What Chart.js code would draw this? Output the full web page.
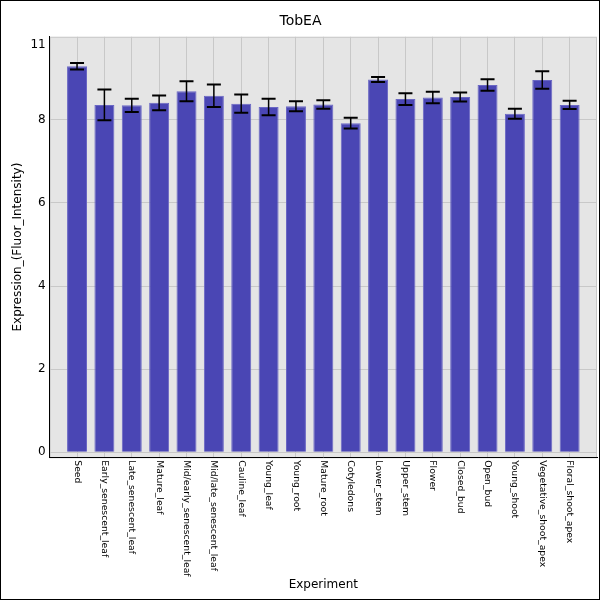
<!DOCTYPE html>
<html>
<head>
<meta charset="utf-8">
<script src="https://cdn.jsdelivr.net/npm/chart.js@4.4.1/dist/chart.umd.min.js"></script>
<style>
  html, body { margin: 0; padding: 0; background: #fff; }
  canvas { display: block; }
</style>
</head>
<body>
<canvas id="myChart" width="600" height="600"></canvas>
<script>
// datos
var experiments = ['Seed', 'Early_senescent_leaf', 'Late_senescent_leaf', 'Mature_leaf',
  'Mid/early_senescent_leaf', 'Mid/late_senescent_leaf', 'Cauline_leaf', 'Young_leaf',
  'Young_root', 'Mature_root', 'Cotyledons', 'Lower_stem', 'Upper_stem', 'Flower',
  'Closed_bud', 'Open_bud', 'Young_shoot', 'Vegetative_shoot_apex', 'Floral_shoot_apex'];

var expression = [9.29, 8.36, 8.35, 8.41, 8.69, 8.58, 8.39, 8.31, 8.33, 8.37,
  7.92, 8.97, 8.50, 8.54, 8.55, 8.84, 8.15, 8.96, 8.36];

var errors = [0.08, 0.37, 0.16, 0.18, 0.24, 0.27, 0.22, 0.20, 0.12, 0.10,
  0.13, 0.06, 0.14, 0.14, 0.11, 0.14, 0.12, 0.21, 0.10];

var yTicks = [0, 2, 4, 6, 8, 9.8];
var yTickLabels = ['0', '2', '4', '6', '8', '11'];

var fuenteX = '9.25px "DejaVu Sans"';

// fondo gris y marco
var fondo = {
  id: 'fondo',
  beforeDraw: function(chart) {
    var c = chart.ctx, a = chart.chartArea;
    c.save();
    c.fillStyle = '#e5e5e5';
    c.fillRect(a.left, a.top, a.right - a.left, a.bottom - a.top);
    c.strokeStyle = '#c8c8c8';
    c.lineWidth = 1;
    c.strokeRect(a.left + 0.5, a.top + 0.5, a.right - a.left - 1, a.bottom - a.top);
    c.restore();
  },
  afterDraw: function(chart) {
    var c = chart.ctx;
    c.save();
    c.strokeStyle = '#000';
    c.lineWidth = 1;
    c.strokeRect(0.5, 0.5, chart.width - 1, chart.height - 1);
    // etiquetas del eje x giradas hacia abajo
    var xs = chart.scales.x;
    c.fillStyle = '#000';
    c.font = fuenteX;
    c.textAlign = 'left';
    c.textBaseline = 'middle';
    experiments.forEach(function(name, i) {
      var px = xs.getPixelForValue(i);
      c.save();
      c.translate(px, xs.top + 3);
      c.rotate(Math.PI / 2);
      c.fillText(name, 0, 0);
      c.restore();
    });
    c.restore();
  }
};

// barras de error
var barrasError = {
  id: 'barrasError',
  afterDatasetsDraw: function(chart) {
    var c = chart.ctx;
    var ys = chart.scales.y;
    var meta = chart.getDatasetMeta(0);
    c.save();
    c.strokeStyle = '#000';
    meta.data.forEach(function(bar, i) {
      var x = bar.x;
      var top = ys.getPixelForValue(expression[i] + errors[i]);
      var bot = ys.getPixelForValue(expression[i] - errors[i]);
      c.lineWidth = 1.5;
      c.beginPath();
      c.moveTo(x, top);
      c.lineTo(x, bot);
      c.stroke();
      c.lineWidth = 2;
      c.beginPath();
      c.moveTo(x - 7, top);
      c.lineTo(x + 7, top);
      c.moveTo(x - 7, bot);
      c.lineTo(x + 7, bot);
      c.stroke();
    });
    c.restore();
  }
};

var puntos = expression.map(function(v, i) { return { x: i, y: v }; });

var ctx = document.getElementById('myChart').getContext('2d');
var myChart = new Chart(ctx, {
  type: 'bar',
  data: {
    datasets: [{
      label: 'TobEA',
      data: puntos,
      backgroundColor: '#4a46b4',
      borderColor: '#6a67c4',
      borderWidth: 1,
      barPercentage: 0.73,
      categoryPercentage: 1
    }]
  },
  options: {
    responsive: false,
    animation: false,
    layout: { padding: { top: 7, right: 3, left: 4, bottom: 4 } },
    plugins: {
      legend: { display: false },
      tooltip: { enabled: false },
      title: {
        display: true,
        text: 'TobEA',
        color: '#000',
        font: { family: 'DejaVu Sans', size: 14, weight: 'normal' },
        padding: { top: 6, bottom: 7 }
      }
    },
    scales: {
      x: {
        type: 'linear',
        min: -1,
        max: experiments.length,
        offset: false,
        afterBuildTicks: function(axis) {
          axis.ticks = experiments.map(function(n, i) { return { value: i }; });
        },
        grid: { offset: false, color: '#c8c8c8', drawTicks: false },
        border: { color: '#000' },
        ticks: {
          color: 'rgba(0,0,0,0)',
          minRotation: 90,
          maxRotation: 90,
          autoSkip: false,
          font: { family: 'DejaVu Sans', size: 9.25 },
          padding: 2,
          callback: function(v) { return experiments[v] || ''; }
        },
        title: {
          display: true,
          text: 'Experiment',
          color: '#000',
          font: { family: 'DejaVu Sans', size: 12 },
          padding: { top: 0, bottom: 4 }
        }
      },
      y: {
        min: -0.12,
        max: 10,
        afterBuildTicks: function(axis) {
          axis.ticks = yTicks.map(function(v) { return { value: v }; });
        },
        grid: {
          color: function(c) { return c.tick && c.tick.value === 9.8 ? 'rgba(0,0,0,0)' : '#c8c8c8'; },
          drawTicks: false
        },
        border: { color: '#000' },
        ticks: {
          color: '#000',
          font: { family: 'DejaVu Sans', size: 12 },
          padding: 4,
          callback: function(v) {
            var i = yTicks.indexOf(v);
            return i >= 0 ? yTickLabels[i] : '';
          }
        },
        title: {
          display: true,
          text: 'Expression_(Fluor_Intensity)',
          color: '#000',
          font: { family: 'DejaVu Sans', size: 12 },
          padding: { top: 7, bottom: 1 }
        }
      }
    }
  },
  plugins: [fondo, barrasError]
});
</script>
</body>
</html>
